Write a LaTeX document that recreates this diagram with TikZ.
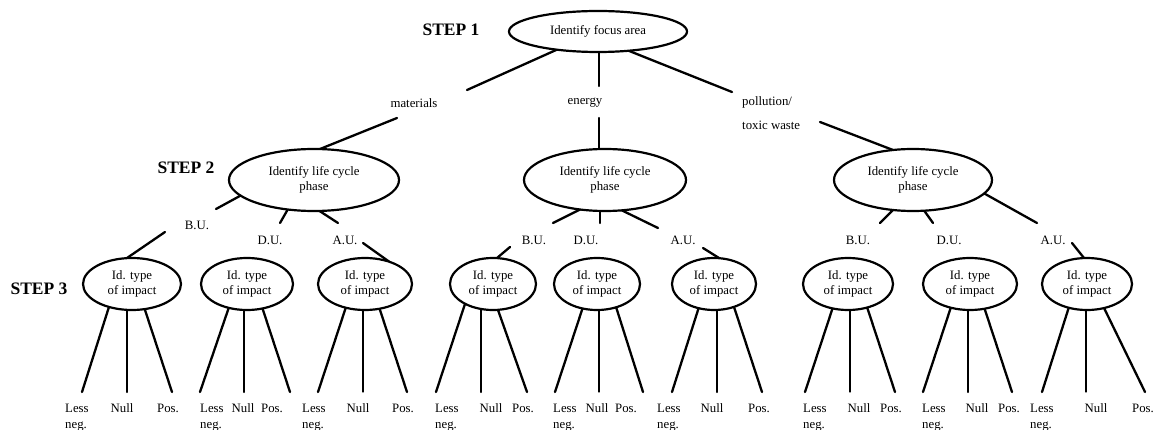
\documentclass[tikz,border=0pt]{standalone}
\usepackage{fontspec}
\setmainfont{Liberation Serif}
\usetikzlibrary{shapes.geometric}
\pgfdeclarelayer{bg}
\pgfsetlayers{bg,main}
\tikzset{
  txt/.style={font=\fontsize{12.8}{15.5}\selectfont, inner sep=0pt},
  leaf/.style={font=\fontsize{12.8}{16}\selectfont, inner sep=0pt},
  steplbl/.style={font=\fontsize{17.5}{20}\selectfont\bfseries, inner sep=0pt},
  ell/.style={ellipse, draw, line width=2.2pt, fill=white, inner sep=0pt,
    align=center, font=\fontsize{12.8}{15.5}\selectfont},
  ln/.style={line width=2.3pt, line cap=round},
  thinln/.style={line width=1.3pt, line cap=round},
  into/.style={shorten >=-7pt},
  outof/.style={shorten <=-7pt}
}
\begin{document}
\begin{tikzpicture}[x=1pt,y=-1pt]
\path[use as bounding box] (0,0) rectangle (1155,430);

% ---------- step labels ----------
\node[steplbl] (s1) at (451,30) {STEP 1};
\node[steplbl] (s2) at (186,168) {STEP 2};
\node[steplbl] (s3) at (39,289) {STEP 3};

% ---------- step 1 ----------
\node[ell, minimum width=178pt, minimum height=41pt] (top) at (598,31.5) {Identify focus area};
\node[txt] (mat) at (414,103) {materials};
\node[txt] (ene) at (585,103) {energy};
\node[leaf, font=\fontsize{12.8}{24}\selectfont, anchor=base west] (pol) at (742,106)
  {\vtop{\hbox{pollution/}\hbox{toxic waste}}};

% ---------- step 2 ----------
\node[ell, minimum width=170pt, minimum height=62pt] (La) at (314,180) {Identify life cycle\\phase};
\node[ell, minimum width=162pt, minimum height=62pt] (Lb) at (605,180) {Identify life cycle\\phase};
\node[ell, minimum width=158pt, minimum height=62pt] (Lc) at (913,180) {Identify life cycle\\phase};

\node[txt] (bua) at (197,225) {B.U.};
\node[txt] (dua) at (270,240) {D.U.};
\node[txt] (aua) at (345,240) {A.U.};
\node[txt] (bub) at (534,240) {B.U.};
\node[txt] (dub) at (586,240) {D.U.};
\node[txt] (aub) at (683,240) {A.U.};
\node[txt] (buc) at (858,240) {B.U.};
\node[txt] (duc) at (949,240) {D.U.};
\node[txt] (auc) at (1053,240) {A.U.};

% ---------- step 3 ----------
\node[ell, minimum width=98pt, minimum height=52pt] (E1) at (132,284) {Id. type\\of impact};
\node[ell, minimum width=92pt, minimum height=52pt] (E2) at (247,284) {Id. type\\of impact};
\node[ell, minimum width=94pt, minimum height=52pt] (E3) at (365,284) {Id. type\\of impact};
\node[ell, minimum width=86pt, minimum height=52pt] (E4) at (493,284) {Id. type\\of impact};
\node[ell, minimum width=86pt, minimum height=52pt] (E5) at (597,284) {Id. type\\of impact};
\node[ell, minimum width=84pt, minimum height=52pt] (E6) at (714,284) {Id. type\\of impact};
\node[ell, minimum width=90pt, minimum height=52pt] (E7) at (848,284) {Id. type\\of impact};
\node[ell, minimum width=94pt, minimum height=52pt] (E8) at (970,284) {Id. type\\of impact};
\node[ell, minimum width=90pt, minimum height=52pt] (E9) at (1087,284) {Id. type\\of impact};

% ---------- leaves ----------
\node[leaf, anchor=base west] (A1) at (65,412) {\vtop{\hbox{Less}\hbox{neg.}}};
\node[leaf, anchor=base] (B1) at (122,412) {Null};
\node[leaf, anchor=base] (C1) at (168,412) {Pos.};
\node[leaf, anchor=base west] (A2) at (200,412) {\vtop{\hbox{Less}\hbox{neg.}}};
\node[leaf, anchor=base] (B2) at (243,412) {Null};
\node[leaf, anchor=base] (C2) at (272,412) {Pos.};
\node[leaf, anchor=base west] (A3) at (302,412) {\vtop{\hbox{Less}\hbox{neg.}}};
\node[leaf, anchor=base] (B3) at (358,412) {Null};
\node[leaf, anchor=base] (C3) at (403,412) {Pos.};
\node[leaf, anchor=base west] (A4) at (435,412) {\vtop{\hbox{Less}\hbox{neg.}}};
\node[leaf, anchor=base] (B4) at (491,412) {Null};
\node[leaf, anchor=base] (C4) at (523,412) {Pos.};
\node[leaf, anchor=base west] (A5) at (553,412) {\vtop{\hbox{Less}\hbox{neg.}}};
\node[leaf, anchor=base] (B5) at (597,412) {Null};
\node[leaf, anchor=base] (C5) at (626,412) {Pos.};
\node[leaf, anchor=base west] (A6) at (657,412) {\vtop{\hbox{Less}\hbox{neg.}}};
\node[leaf, anchor=base] (B6) at (712,412) {Null};
\node[leaf, anchor=base] (C6) at (759,412) {Pos.};
\node[leaf, anchor=base west] (A7) at (803,412) {\vtop{\hbox{Less}\hbox{neg.}}};
\node[leaf, anchor=base] (B7) at (859,412) {Null};
\node[leaf, anchor=base] (C7) at (891,412) {Pos.};
\node[leaf, anchor=base west] (A8) at (922,412) {\vtop{\hbox{Less}\hbox{neg.}}};
\node[leaf, anchor=base] (B8) at (977,412) {Null};
\node[leaf, anchor=base] (C8) at (1009,412) {Pos.};
\node[leaf, anchor=base west] (A9) at (1030,412) {\vtop{\hbox{Less}\hbox{neg.}}};
\node[leaf, anchor=base] (B9) at (1096,412) {Null};
\node[leaf, anchor=base] (C9) at (1143,412) {Pos.};

\begin{pgfonlayer}{bg}
% step 1 connectors
\draw[ln, outof] ([shift={(-43,19)}]top.center) -- ([shift={(53,-13)}]mat.center);
\draw[ln, outof] ([shift={(1,20)}]top.center) -- ([shift={(14,-17)}]ene.center);
\draw[ln, outof] ([shift={(30,19)}]top.center) -- ([shift={(-10,-14)}]pol.base west);
\draw[ln, into] ([shift={(-17,15)}]mat.center) -- ([shift={(6,-31)}]La.center);
\draw[ln, into] ([shift={(14,15)}]ene.center) -- ([shift={(-6,-31)}]Lb.center);
\draw[ln, into] ([shift={(78,16)}]pol.base west) -- ([shift={(-20,-30)}]Lc.center);

% step 2 connectors, left
\draw[ln, outof] ([shift={(-76,17)}]La.center) -- ([shift={(19,-16)}]bua.center);
\draw[ln, into] ([shift={(-32,7)}]bua.center) -- ([shift={(-5,-26)}]E1.center);
\draw[ln, outof] ([shift={(-26,29)}]La.center) -- ([shift={(10,-17)}]dua.center);
\draw[ln, outof] ([shift={(4,30)}]La.center) -- ([shift={(-7,-17)}]aua.center);
\draw[ln, into] ([shift={(18,3)}]aua.center) -- ([shift={(19,-26)}]E3.center);
% step 2 connectors, middle
\draw[ln, outof] ([shift={(-22,28)}]Lb.center) -- ([shift={(19,-17)}]bub.center);
\draw[ln, into] ([shift={(-24,7)}]bub.center) -- ([shift={(4,-26)}]E4.center);
\draw[ln, outof] ([shift={(-5,29)}]Lb.center) -- ([shift={(14,-17)}]dub.center);
\draw[ln, outof] ([shift={(12,28)}]Lb.center) -- ([shift={(-25,-12)}]aub.center);
\draw[ln, into] ([shift={(20,8)}]aub.center) -- ([shift={(5,-26)}]E6.center);
% step 2 connectors, right
\draw[ln, outof] ([shift={(-18,28)}]Lc.center) -- ([shift={(22,-17)}]buc.center);
\draw[ln, outof] ([shift={(10,29)}]Lc.center) -- ([shift={(-16,-17)}]duc.center);
\draw[ln, outof] ([shift={(74,15)}]Lc.center) -- ([shift={(-16,-17)}]auc.center);
\draw[ln, into] ([shift={(19,3)}]auc.center) -- ([shift={(-3,-26)}]E9.center);

% step 3 connectors
\draw[ln, outof] ([shift={(-24,26)}]E1.center) -- ([shift={(17,-20)}]A1.base west);
\draw[ln, outof] ([shift={(-5,26)}]E1.center) -- ([shift={(5,-20)}]B1.base);
\draw[ln, outof] ([shift={(13,26)}]E1.center) -- ([shift={(4,-20)}]C1.base);

\draw[ln, outof] ([shift={(-19,26)}]E2.center) -- ([shift={(0,-20)}]A2.base west);
\draw[ln, outof] ([shift={(-3,26)}]E2.center) -- ([shift={(1,-20)}]B2.base);
\draw[ln, outof] ([shift={(16,26)}]E2.center) -- ([shift={(18,-20)}]C2.base);

\draw[ln, outof] ([shift={(-20,26)}]E3.center) -- ([shift={(16,-20)}]A3.base west);
\draw[thinln, outof] ([shift={(-2,26)}]E3.center) -- ([shift={(5,-20)}]B3.base);
\draw[ln, outof] ([shift={(15,26)}]E3.center) -- ([shift={(4,-20)}]C3.base);

\draw[ln, outof] ([shift={(-30,26)}]E4.center) -- ([shift={(1,-20)}]A4.base west);
\draw[ln, outof] ([shift={(-12,26)}]E4.center) -- ([shift={(-10,-20)}]B4.base);
\draw[ln, outof] ([shift={(5,26)}]E4.center) -- ([shift={(4,-20)}]C4.base);

\draw[ln, outof] ([shift={(-15,26)}]E5.center) -- ([shift={(2,-20)}]A5.base west);
\draw[thinln, outof] ([shift={(2,26)}]E5.center) -- ([shift={(2,-20)}]B5.base);
\draw[ln, outof] ([shift={(20,26)}]E5.center) -- ([shift={(17,-20)}]C5.base);

\draw[ln, outof] ([shift={(-16,26)}]E6.center) -- ([shift={(15,-20)}]A6.base west);
\draw[ln, outof] ([shift={(3,26)}]E6.center) -- ([shift={(5,-20)}]B6.base);
\draw[ln, outof] ([shift={(21,26)}]E6.center) -- ([shift={(3,-20)}]C6.base);

\draw[ln, outof] ([shift={(-16,26)}]E7.center) -- ([shift={(2,-20)}]A7.base west);
\draw[thinln, outof] ([shift={(2,26)}]E7.center) -- ([shift={(-9,-20)}]B7.base);
\draw[ln, outof] ([shift={(20,26)}]E7.center) -- ([shift={(4,-20)}]C7.base);

\draw[ln, outof] ([shift={(-20,26)}]E8.center) -- ([shift={(1,-20)}]A8.base west);
\draw[ln, outof] ([shift={(-2,26)}]E8.center) -- ([shift={(-9,-20)}]B8.base);
\draw[ln, outof] ([shift={(15,26)}]E8.center) -- ([shift={(3,-20)}]C8.base);

\draw[ln, outof] ([shift={(-19,26)}]E9.center) -- ([shift={(12,-20)}]A9.base west);
\draw[thinln, outof] ([shift={(-1,26)}]E9.center) -- ([shift={(-10,-20)}]B9.base);
\draw[ln, outof] ([shift={(18,26)}]E9.center) -- ([shift={(2,-20)}]C9.base);
\end{pgfonlayer}
\end{tikzpicture}
\end{document}
